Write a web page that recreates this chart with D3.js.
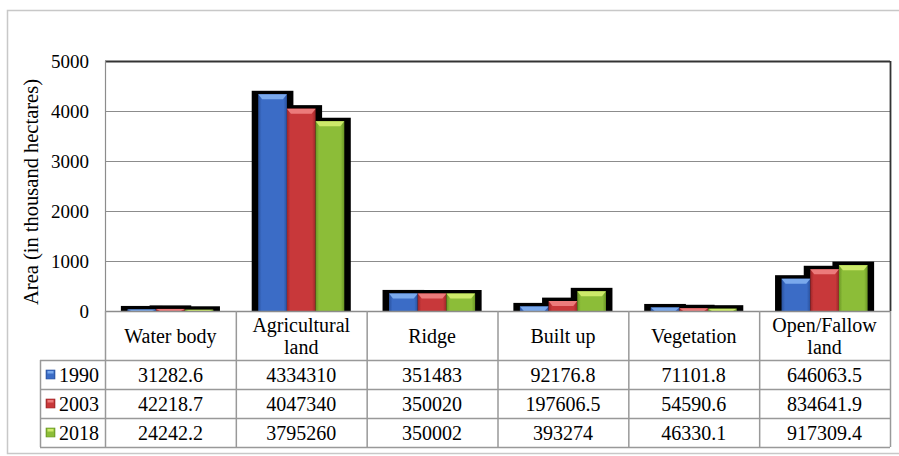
<!DOCTYPE html>
<html lang="en">
<head>
  <meta charset="utf-8">
  <title>Land use area 1990-2018</title>
  <script src="https://d3js.org/d3.v7.min.js"></script>
  <style>
    body { margin: 0; background: #fff; }
  </style>
</head>
<body>
  <div id="chart"></div>
  <script>
    // data (hectares); bars are drawn in thousand hectares
    const categories = ["Water body", "Agricultural land", "Ridge", "Built up", "Vegetation", "Open/Fallow land"];
    const catLines = [["Water body"], ["Agricultural", "land"], ["Ridge"], ["Built up"], ["Vegetation"], ["Open/Fallow", "land"]];
    const years = ["1990", "2003", "2018"];
    const v1990 = [31282.6, 4334310, 351483, 92176.8, 71101.8, 646063.5];
    const v2003 = [42218.7, 4047340, 350020, 197606.5, 54590.6, 834641.9];
    const v2018 = [24242.2, 3795260, 350002, 393274, 46330.1, 917309.4];
    const yTicks = [0, 1000, 2000, 3000, 4000, 5000];

    const series = [v1990, v2003, v2018];
    const colors = [
      { base: "#3b6cc6", dark: "#2a529e", light: "#7aa9ec" },
      { base: "#c8383a", dark: "#9c2628", light: "#ec7b7b" },
      { base: "#8cbd38", dark: "#6a9625", light: "#cdea6a" }
    ];

    const width = 899, height = 456;
    const plot = { left: 105, right: 890, top: 61, bottom: 311 };
    const rowY = [311, 360, 389, 418, 447];
    const tableLeft = 40;
    const serif = "'Liberation Serif', 'Times New Roman', serif";
    const fs = "19px";
    const fsTable = "20px";

    const svg = d3.select("#chart").append("svg")
      .attr("width", width).attr("height", height)
      .style("font-family", serif);

    // gradients for bevelled bars
    const defs = svg.append("defs");
    colors.forEach((c, i) => {
      const g = defs.append("linearGradient").attr("id", "grad" + i)
        .attr("x1", "0%").attr("x2", "100%").attr("y1", "0%").attr("y2", "0%");
      g.append("stop").attr("offset", "0%").attr("stop-color", c.dark);
      g.append("stop").attr("offset", "12%").attr("stop-color", c.base);
      g.append("stop").attr("offset", "88%").attr("stop-color", c.base);
      g.append("stop").attr("offset", "100%").attr("stop-color", c.dark);
    });

    // outer frame
    svg.append("rect")
      .attr("x", 7.5).attr("y", 10.5).attr("width", 898).attr("height", 443)
      .attr("fill", "none").attr("stroke", "#c8c8c8").attr("stroke-width", 1.5);

    const x = d3.scaleBand().domain(categories).range([plot.left, plot.right]);
    const y = d3.scaleLinear().domain([0, 5000]).range([plot.bottom, plot.top]);
    const xSub = d3.scaleBand().domain(years).range([0, x.bandwidth()]).paddingOuter(0.78).paddingInner(0);

    // gridlines
    svg.append("g").selectAll("line").data(yTicks.slice(1, -1)).join("line")
      .attr("x1", plot.left).attr("x2", plot.right)
      .attr("y1", d => Math.round(y(d)) + 0.5).attr("y2", d => Math.round(y(d)) + 0.5)
      .attr("stroke", "#8c8c8c").attr("stroke-width", 1.2);

    // plot border: top and right dark, left grey
    svg.append("line").attr("x1", plot.left).attr("x2", plot.right)
      .attr("y1", plot.top + 0.5).attr("y2", plot.top + 0.5)
      .attr("stroke", "#333").attr("stroke-width", 1.8);
    svg.append("line").attr("x1", plot.right + 0.5).attr("x2", plot.right + 0.5)
      .attr("y1", plot.top).attr("y2", plot.bottom)
      .attr("stroke", "#333").attr("stroke-width", 1.8);
    svg.append("line").attr("x1", plot.left + 0.5).attr("x2", plot.left + 0.5)
      .attr("y1", plot.top).attr("y2", plot.bottom)
      .attr("stroke", "#8c8c8c").attr("stroke-width", 1.2);

    // y tick labels
    svg.append("g").selectAll("text").data(yTicks).join("text")
      .attr("x", 89).attr("y", d => y(d)).attr("dy", "0.35em")
      .attr("text-anchor", "end").style("font-size", fs)
      .text(d => d);

    // y axis title
    svg.append("text")
      .attr("transform", "translate(38,192) rotate(-90)")
      .attr("text-anchor", "middle").style("font-size", "20.5px")
      .text("Area (in thousand hectares)");

    // bar data
    const bars = [];
    categories.forEach((c, ci) => {
      series.forEach((s, si) => {
        bars.push({ cat: c, si, val: s[ci] / 1000 });
      });
    });
    const bx = d => x(d.cat) + xSub(years[d.si]);
    const bw = xSub.bandwidth();

    // black shadow behind bars
    svg.append("g").selectAll("rect").data(bars).join("rect")
      .attr("x", d => bx(d) - 6.5).attr("width", bw + 13)
      .attr("y", d => y(d.val) - 3.5).attr("height", d => plot.bottom - y(d.val) + 3.5)
      .attr("fill", "#000");

    // coloured bars
    const barG = svg.append("g").selectAll("g").data(bars).join("g");
    barG.append("rect")
      .attr("x", d => bx(d)).attr("width", bw)
      .attr("y", d => y(d.val)).attr("height", d => plot.bottom - y(d.val))
      .attr("fill", d => `url(#grad${d.si})`);
    // light bevel at top of each bar
    barG.append("path")
      .attr("d", d => {
        const x0 = bx(d), x1 = x0 + bw, t = y(d.val);
        const h = Math.min(5, plot.bottom - t);
        return `M${x0},${t}L${x1},${t}L${x1 - 4},${t + h}L${x0 + 4},${t + h}Z`;
      })
      .attr("fill", d => colors[d.si].light);

    // baseline
    svg.append("line").attr("x1", plot.left).attr("x2", plot.right)
      .attr("y1", plot.bottom + 0.5).attr("y2", plot.bottom + 0.5)
      .attr("stroke", "#8c8c8c").attr("stroke-width", 1.5);

    // data table grid
    const table = svg.append("g").attr("stroke", "#999").attr("stroke-width", 1.5);
    rowY.slice(1).forEach(ry => {
      table.append("line").attr("x1", tableLeft).attr("x2", plot.right)
        .attr("y1", ry + 0.5).attr("y2", ry + 0.5);
    });
    table.append("line").attr("x1", tableLeft + 0.5).attr("x2", tableLeft + 0.5)
      .attr("y1", rowY[1]).attr("y2", rowY[4]);
    categories.forEach(c => {
      table.append("line").attr("x1", x(c) + 0.5).attr("x2", x(c) + 0.5)
        .attr("y1", plot.bottom).attr("y2", rowY[4]);
    });
    table.append("line").attr("x1", plot.right + 0.5).attr("x2", plot.right + 0.5)
      .attr("y1", plot.bottom).attr("y2", rowY[4]);

    // category headers
    const head = svg.append("g").selectAll("text").data(categories).join("text")
      .attr("text-anchor", "middle").style("font-size", fsTable);
    head.each(function(c, i) {
      const lines = catLines[i];
      const cx = x(c) + x.bandwidth() / 2;
      const cy = (rowY[0] + rowY[1]) / 2;
      lines.forEach((ln, li) => {
        d3.select(this).append("tspan")
          .attr("x", cx)
          .attr("y", cy + (li - (lines.length - 1) / 2) * 22)
          .attr("dy", "0.35em")
          .text(ln);
      });
    });

    // legend keys + values
    series.forEach((s, si) => {
      const cy = (rowY[si + 1] + rowY[si + 2]) / 2;
      svg.append("rect").attr("x", 46).attr("y", cy - 4.5).attr("width", 9).attr("height", 9)
        .attr("fill", `url(#grad${si})`).attr("stroke", colors[si].dark).attr("stroke-width", 0.6);
      svg.append("rect").attr("x", 47.5).attr("y", cy - 3.5).attr("width", 6).attr("height", 2.5)
        .attr("fill", colors[si].light);
      svg.append("text").attr("x", 59).attr("y", cy).attr("dy", "0.35em")
        .style("font-size", fsTable).text(years[si]);
      svg.append("g").selectAll("text").data(s).join("text")
        .attr("x", (d, ci) => x(categories[ci]) + x.bandwidth() / 2)
        .attr("y", cy).attr("dy", "0.35em")
        .attr("text-anchor", "middle").style("font-size", fsTable)
        .text(d => String(d));
    });
  </script>
</body>
</html>
